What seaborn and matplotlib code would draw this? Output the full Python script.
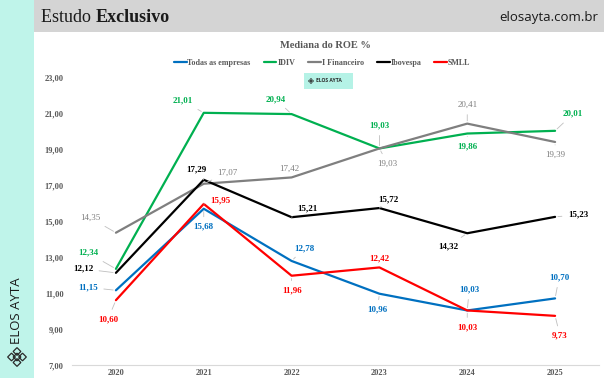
import matplotlib
matplotlib.use("Agg")
import matplotlib.pyplot as plt
from matplotlib.patches import Rectangle, Polygon
import seaborn as sns
import pandas as pd
import numpy as np

# ---- data ----
years = [2020, 2021, 2022, 2023, 2024, 2025]
series_names = ["Todas as empresas", "IDIV", "I Financeiro", "Ibovespa", "SMLL"]
todas = [11.15, 15.68, 12.78, 10.96, 10.03, 10.70]
idiv = [12.34, 21.01, 20.94, 19.03, 19.86, 20.01]
ifin = [14.35, 17.07, 17.42, 19.03, 20.41, 19.39]
ibov = [12.12, 17.29, 15.21, 15.72, 14.32, 15.23]
smll = [10.60, 15.95, 11.96, 12.42, 10.03, 9.73]
y_ticks = [7, 9, 11, 13, 15, 17, 19, 21, 23]

values = [todas, idiv, ifin, ibov, smll]
colors = ["#0070C0", "#00B050", "#7F7F7F", "#000000", "#FF0000"]
palette = dict(zip(series_names, colors))

# label offsets (pixels) per series / year
offsets = {
    "Todas as empresas": [(-28, 3), (0, -18), (13, 13), (-2, -16), (2, 21), (4, 21)],
    "IDIV": [(-28, 16), (-21, 12), (-16, 15), (0, 23), (0, -13), (18, 17)],
    "I Financeiro": [(-26, 15), (24, 11), (-2, 9), (8, -15), (0, 19), (0, -13)],
    "Ibovespa": [(-33, 4), (-7, 10), (16, 9), (9, 9), (-19, -13), (23, 2)],
    "SMLL": [(-8, -19), (17, 3), (0, -15), (0, 9), (0, -17), (5, -20)],
}

rows = []
for name, vals in zip(series_names, values):
    for yr, v in zip(years, vals):
        rows.append({"Ano": yr, "ROE": v, "Serie": name})
df = pd.DataFrame(rows)

sns.set_theme(style="white")
plt.rcParams["font.family"] = ["Liberation Serif", "DejaVu Serif"]

W, H = 604, 378
fig = plt.figure(figsize=(W / 100, H / 100), dpi=100)
fig.patch.set_facecolor("white")

# decorative frame
fig.add_artist(Rectangle((0, 0), 34 / W, 1, transform=fig.transFigure,
                         facecolor="#BFF4EA", edgecolor="none", zorder=0))
fig.add_artist(Rectangle((34 / W, 1 - 32 / H), 1 - 34 / W, 32 / H, transform=fig.transFigure,
                         facecolor="#D4D4D4", edgecolor="none", zorder=0))
t1 = fig.text(41 / W, 1 - 17 / H, "Estudo ", fontsize=13, color="#1a1a1a",
              ha="left", va="center", family=["Liberation Serif"])
fig.canvas.draw()
bb = t1.get_window_extent()
fig.text(bb.x1 / W, 1 - 17 / H, "Exclusivo", fontsize=13, color="#1a1a1a", fontweight="bold",
         ha="left", va="center", family=["Liberation Serif"])
fig.text(598 / W, 1 - 17 / H, "elosayta.com.br", fontsize=9.5, color="#1a1a1a",
         ha="right", va="center", family=["Open Sans", "DejaVu Sans"])
fig.text(17 / W, 1 - 311 / H, "ELOS AYTA", fontsize=9.5, color="#1a1a1a",
         ha="center", va="center", rotation=90, family=["Open Sans", "DejaVu Sans"])


def lattice(cx, cy, s, lw):
    # small diamond lattice logo, figure pixel coords
    for dx in (-1, 0, 1):
        for dy in (-1, 0, 1):
            if abs(dx) + abs(dy) == 2:
                continue
            x0, y0 = cx + dx * s, cy + dy * s
            pts = [(x0 - s * 0.7, y0), (x0, y0 + s * 0.7), (x0 + s * 0.7, y0), (x0, y0 - s * 0.7)]
            pts = [(px / W, 1 - py / H) for px, py in pts]
            fig.add_artist(Polygon(pts, closed=True, transform=fig.transFigure, fill=False,
                                   edgecolor="#2a2a2a", lw=lw, zorder=5))


lattice(17, 357, 5.5, 0.9)

ax = fig.add_axes([72 / W, 1 - 365 / H, 527 / W, 288 / H])

sns.lineplot(data=df, x="Ano", y="ROE", hue="Serie", hue_order=series_names,
             palette=palette, linewidth=1.6, ax=ax, legend=False, sort=False)

ax.set_xlim(2019.5, 2025.5)
ax.set_ylim(7, 23)
ax.set_xticks(years)
ax.set_xticklabels([str(y) for y in years])
ax.set_yticks(y_ticks)
ax.set_yticklabels([f"{t:.2f}".replace(".", ",") for t in y_ticks])
ax.set_xlabel("")
ax.set_ylabel("")
for s in ["top", "right", "left"]:
    ax.spines[s].set_visible(False)
ax.spines["bottom"].set_color("#D9D9D9")
ax.spines["bottom"].set_linewidth(0.8)
ax.tick_params(axis="both", length=0, labelsize=6, labelcolor="#595959")
ax.tick_params(axis="y", pad=6)
ax.tick_params(axis="x", pad=3)
for lab in ax.get_xticklabels() + ax.get_yticklabels():
    lab.set_fontweight("bold")
ax.grid(False)
ax.set_facecolor("none")

# data labels
for name, vals, col in zip(series_names, values, colors):
    gray = name == "I Financeiro"
    for yr, v, (dx, dy) in zip(years, vals, offsets[name]):
        dist = np.hypot(dx, dy)
        arrow = dict(arrowstyle="-", color="#BFBFBF", lw=0.6, shrinkA=2, shrinkB=2) if dist > 12 else None
        ax.annotate(f"{v:.2f}".replace(".", ","), xy=(yr, v), xytext=(dx, dy),
                    textcoords="offset pixels", ha="center", va="center",
                    fontsize=6.5, color=col, fontweight="normal" if gray else "bold",
                    arrowprops=arrow, zorder=6)

# chart title
fig.text(325 / W, 1 - 45 / H, "Mediana do ROE %", fontsize=7.5, fontweight="bold",
         color="#595959", ha="center", va="center")

# legend
handles = [plt.Line2D([], [], color=c, lw=1.6) for c in colors]
leg = fig.legend(handles, series_names, loc="center", bbox_to_anchor=(322 / W, 1 - 63 / H),
                 ncol=5, frameon=False, handlelength=1.6, handletextpad=0.1,
                 columnspacing=1.6, prop={"size": 5.8, "weight": "bold"})
for t in leg.get_texts():
    t.set_color("#595959")

# badge
fig.add_artist(Rectangle((304 / W, 1 - 89 / H), 49 / W, 16 / H, transform=fig.transFigure,
                         facecolor="#B5F2E6", edgecolor="none", zorder=4))
lattice(311, 81, 1.6, 0.4)
fig.text(316 / W, 1 - 81 / H, "ELOS AYTA", fontsize=3.6, fontweight="bold", color="#2a2a2a",
         ha="left", va="center", family=["Open Sans", "DejaVu Sans"], zorder=6)

fig.savefig("out.png", dpi=100, facecolor="white")
